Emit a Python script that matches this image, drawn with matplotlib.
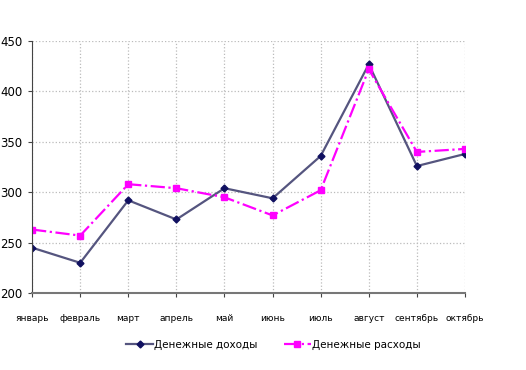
import matplotlib
matplotlib.use('Agg')
import matplotlib.pyplot as plt

plt.rcParams['font.family'] = ['DejaVu Sans']

months = ['январь', 'февраль', 'март', 'апрель', 'май', 'июнь',
          'июль', 'август', 'сентябрь', 'октябрь']
income = [245, 230, 292, 273, 304, 294, 336, 427, 326, 338]
expenses = [263, 257, 308, 304, 295, 277, 302, 422, 340, 343]

fig = plt.figure(figsize=(5.26, 3.70), dpi=100)
ax = fig.add_axes([0.061, 0.208, 0.823, 0.681])

x = list(range(len(months)))
ax.plot(x, income, '-', color='#55557f', lw=1.6, marker='D', ms=3.5,
        mfc='#101060', mec='#101060', label='Денежные доходы')
ax.plot(x, expenses, '-.', color='#ff00ff', lw=1.6, marker='s', ms=4.5,
        mfc='#ff00ff', mec='#ff00ff', label='Денежные расходы')

ax.set_xlim(0, len(months) - 1)
ax.set_ylim(200, 450)
ax.set_yticks(range(200, 451, 50))
ax.set_xticks(x)
ax.set_xticklabels(months)
ax.tick_params(axis='both', length=3, color='#444444')
ax.tick_params(axis='y', labelsize=8.5, pad=4)
ax.tick_params(axis='x', labelsize=6.5, pad=12)

ax.grid(True, ls=':', color='#bbbbbb', lw=0.9)
ax.set_axisbelow(True)
for s in ['top', 'right']:
    ax.spines[s].set_visible(False)
ax.spines['left'].set_color('#444444')
ax.spines['bottom'].set_color('#777777')
ax.spines['bottom'].set_linewidth(1.5)

fig.legend(loc='lower center', bbox_to_anchor=(0.52, 0.03), ncol=2,
           frameon=False, fontsize=7.5, handlelength=2.6, columnspacing=2.5,
           handletextpad=0.1)

fig.savefig('out.png', dpi=100)
